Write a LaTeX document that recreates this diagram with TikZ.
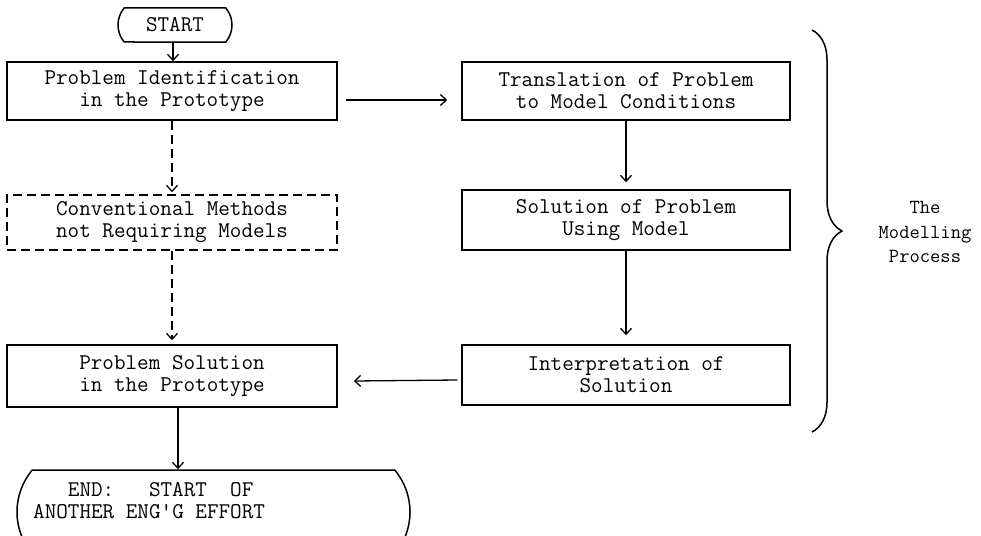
\documentclass[tikz,border=0pt]{standalone}
\usepackage{fontspec}
\usetikzlibrary{arrows.meta,shapes.misc,decorations.pathreplacing}
\newcommand\twfont{\ttfamily\addfontfeatures{FakeBold=1.5}}
\begin{document}
\begin{tikzpicture}[x=1pt,y=-1pt,
  every node/.style={font=\twfont\fontsize{22.5}{22}\selectfont},
  box/.style={draw, line width=1.5pt, minimum width=330pt, minimum height=58pt, inner sep=0pt, align=center},
  dbox/.style={box, dash pattern=on 9pt off 5pt},
  term/.style={draw, line width=1.5pt, rounded rectangle, rounded rectangle arc length=80, inner sep=0pt},
  arr/.style={-{Straight Barb[length=6pt,width=11pt]}, line width=1.3pt},
  darr/.style={arr, dash pattern=on 9pt off 5pt},
  bracestyle/.style={line width=1.5pt, decorate, decoration={brace, amplitude=30pt, aspect=0.5}}]
\useasboundingbox (0,0) rectangle (981,535);
\clip (0,0) rectangle (981,535);

\node[term, minimum width=114pt, minimum height=34pt] (start) at (175,25) {START};
\node[box] (b1) at (172,91) {Problem Identification\\in the Prototype};
\node[box, minimum width=328pt] (b2) at (626,91) {Translation of Problem\\to Model Conditions};
\node[dbox, minimum height=55pt] (conv) at (172,222.5) {Conventional Methods\\not Requiring Models};
\node[box, minimum width=328pt, minimum height=60pt] (b3) at (626,220) {Solution of Problem\\Using Model};
\node[box, minimum height=62pt] (b4) at (172,376) {Problem Solution\\in the Prototype};
\node[box, minimum width=328pt, minimum height=60pt] (b5) at (626,375) {Interpretation of\\Solution};
\node[term, minimum width=393pt, minimum height=84pt] (end) at (213.5,512) {};
\node[anchor=west, align=left, inner sep=0pt] (endtext) at (33,501) {~~~END:~~~START~~OF\\ANOTHER ENG'G EFFORT};

\coordinate (bt) at (812,30);
\coordinate (bb) at (812,432);
\draw[bracestyle] (bt) -- (bb);
\node[font=\twfont\fontsize{20}{24.5}\selectfont, align=center] (lbl) at (925,232) {The\\Modelling\\Process};

\draw[arr] ([xshift=-2pt]start.south) -- ([xshift=-2pt]start.south |- b1.north);
\draw[arr] ([shift={(8,9)}]b1.east) -- ([shift={(-14,9)}]b2.west);
\draw[arr, shorten >=7pt] (b2.south) -- (b3.north);
\draw[arr, shorten >=9pt] (b3.south) -- (b5.north);
\draw[arr] ([shift={(-4,5)}]b5.west) -- ([shift={(16,5)}]b4.east);
\draw[darr, shorten >=2pt] (b1.south) -- (conv.north);
\draw[darr, shorten >=4pt] (conv.south) -- (b4.north);
\draw[arr] ([xshift=6pt]b4.south) -- ([xshift=6pt]b4.south |- end.north);
\end{tikzpicture}
\end{document}
